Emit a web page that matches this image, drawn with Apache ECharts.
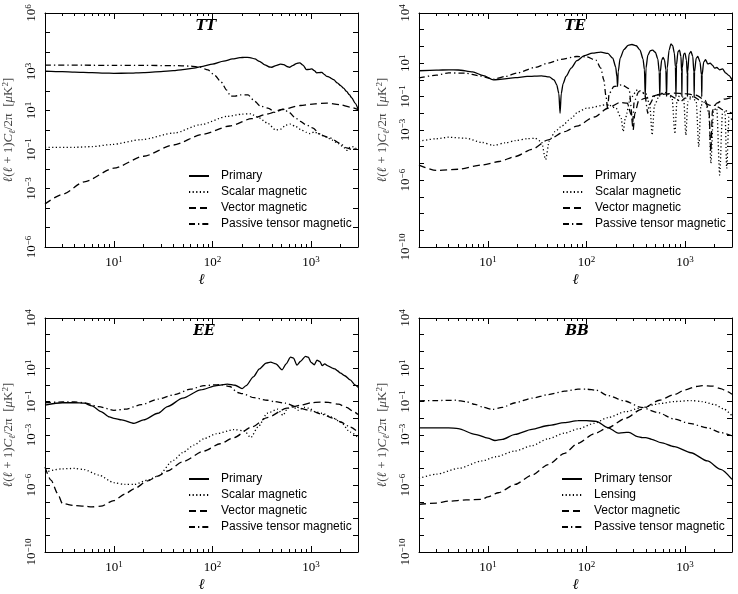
<!DOCTYPE html>
<html><head><meta charset="utf-8">
<script src="https://cdn.jsdelivr.net/npm/echarts@6/dist/echarts.min.js"></script>
<style>html,body{margin:0;padding:0;background:#fff}#c{width:738px;height:594px}</style>
</head><body><div id="c"></div>
<script>
// ---------- labels / ticks ----------
const panelTitles = ['TT', 'TE', 'EE', 'BB'];
const legendNamesMain = ['Primary', 'Scalar magnetic', 'Vector magnetic', 'Passive tensor magnetic'];
const legendNamesBB = ['Primary tensor', 'Lensing', 'Vector magnetic', 'Passive tensor magnetic'];
const xRange = [2, 3000];
const xMajorTicks = [10, 100, 1000];
const xMinorTicks = [2, 3, 4, 5, 6, 7, 8, 9, 20, 30, 40, 50, 60, 70, 80, 90, 200, 300, 400, 500, 600, 700, 800, 900, 2000, 3000];
const ttYRange = [1e-6, 1e6];
const ttYTicks = [1e-6, 1e-5, 1e-4, 1e-3, 1e-2, 1e-1, 1, 1e1, 1e2, 1e3, 1e4, 1e5, 1e6];
const ttYLabels = [1e6, 1e3, 1e1, 1e-1, 1e-3, 1e-6];
const polYRange = [1e-10, 1e4];
const polYTicks = [1e-10, 1e-9, 1e-8, 1e-7, 1e-6, 1e-5, 1e-4, 1e-3, 1e-2, 1e-1, 1, 1e1, 1e2, 1e3, 1e4];
const polYLabels = [1e4, 1e1, 1e-1, 1e-3, 1e-6, 1e-10];

// ---------- TT ----------
const ttPrimary = [[2,1050],[3,980],[4,930],[6,870],[8,830],[10,810],[14,820],[20,880],[30,980],[40,1100],[50,1250],[65,1500],[80,1850],[100,2400],[130,3400],[160,4400],[190,5100],[212,5350],[240,5200],[270,4400],[300,3300],[340,2200],[380,1700],[400,1650],[440,2000],[490,2400],[530,2250],[570,1800],[605,1650],[650,2000],[710,2550],[770,2770],[830,2100],[900,1250],[960,1280],[1020,1360],[1080,1100],[1145,850],[1210,880],[1290,900],[1360,720],[1450,560],[1530,520],[1620,430],[1700,380],[1850,260],[2000,190],[2140,140],[2300,95],[2450,65],[2600,44],[2800,24],[3000,12]];
const ttScalar = [[2,0.13],[4,0.13],[6,0.14],[9.4,0.18],[19,0.32],[41,0.7],[76,1.9],[142,5],[200,6.5],[244,6.8],[290,4.5],[360,2.3],[440,1.0],[490,1.1],[560,1.8],[620,2.0],[700,1.5],[800,1.0],[900,0.75],[980,0.65],[1080,0.8],[1200,0.65],[1400,0.45],[1650,0.3],[1900,0.2],[2150,0.13],[2300,0.09],[2500,0.13],[2700,0.14],[3000,0.09]];
const ttVector = [[2,1.6e-4],[3,5e-4],[5,2.2e-3],[10,1.1e-2],[20,4.5e-2],[40,0.17],[80,0.6],[150,1.6],[250,3.8],[360,6.6],[500,11],[780,18],[1100,22],[1450,24],[1960,20],[2500,15],[3000,11]];
const ttPassive = [[2,2100],[5,2100],[10,2050],[20,2050],[40,2000],[60,1900],[75,1650],[90,1200],[105,650],[122,300],[140,110],[153,54],[170,55],[190,63],[230,63],[260,35],[306,17],[372,13],[430,8],[525,12],[600,8],[700,4],[780,2.8],[900,1.8],[1050,1.26],[1240,0.57],[1560,0.39],[1960,0.21],[2300,0.12],[2600,0.1],[3000,0.12]];

// ---------- TE ----------
const tePrimary = [[2,3.5],[3,3.8],[4,4.0],[5,3.9],[7,3.0],[9,1.8],[11.4,1.0],[14,1.1],[19,1.35],[25,1.6],[35,1.75],[42,1.5],[47,1.0],[50,0.5],[52.5,0.15],[54,0.01],[55.5,0.15],[58,0.6],[62,1.6],[70,5],[80,14],[95,28],[115,40],[140,46],[165,38],[185,20],[198,6],[204,1.5],[207,0.4],[210,3],[220,20],[240,65],[265,115],[290,130],[320,110],[350,60],[375,18],[388,4],[395,0.1],[402,5],[420,30],[445,55],[470,60],[500,45],[530,18],[548,3],[555,0.1],[562,3],[580,15],[600,22],[620,15],[640,4],[650,0.1],[660,5],[690,60],[720,140],[750,110],[780,40],[800,6],[810,0.1],[820,8],[850,50],[880,60],[910,25],[925,3],[930,0.1],[937,5],[970,35],[1000,40],[1035,15],[1055,2],[1060,0.1],[1066,3],[1100,35],[1150,50],[1200,25],[1230,3],[1240,0.1],[1250,3],[1300,20],[1350,25],[1420,12],[1470,2],[1480,0.1],[1492,2],[1550,12],[1620,16],[1700,9],[1800,10],[1900,7.5],[2000,5],[2100,5.5],[2250,4],[2400,4.5],[2600,2.5],[2800,1.8],[3000,1.0]];
const teScalar = [[2,2.1e-4],[3,3e-4],[4,3.7e-4],[6,3.2e-4],[8.7,1.8e-4],[11.4,1.2e-4],[15,1.7e-4],[19,2.3e-4],[25,3e-4],[30,3.2e-4],[35,2e-4],[38.5,1.7e-5],[42,2.2e-4],[48,8e-4],[56,1.7e-3],[70,5e-3],[82,0.012],[100,0.02],[165,0.033],[200,0.02],[225,5e-3],[236,8e-4],[248,5e-3],[280,0.08],[330,0.25],[400,0.15],[440,0.03],[464,5e-4],[490,0.03],[560,0.15],[650,0.18],[740,0.08],[790,6e-4],[830,0.06],[900,0.15],[970,0.08],[1020,5e-4],[1070,0.05],[1180,0.1],[1300,0.05],[1380,1e-4],[1450,0.03],[1600,0.05],[1750,0.01],[1830,1e-5],[1950,0.015],[2100,0.02],[2250,2e-6],[2400,0.01],[2550,0.012],[2650,5e-6],[2800,0.006],[3000,0.004]];
const teVector = [[2,8e-6],[3,3.8e-6],[5,4.5e-6],[8.7,8e-6],[13,1.3e-5],[19,2.6e-5],[28,7e-5],[41,2.6e-4],[60,8e-4],[80,1.7e-3],[120,6e-3],[165,0.02],[220,0.045],[260,0.04],[285,0.008],[298,1e-3],[310,0.01],[340,0.06],[400,0.08],[550,0.13],[780,0.16],[1000,0.15],[1300,0.12],[1600,0.06],[1750,0.015],[1830,5e-5],[1900,0.015],[2100,0.04],[2500,0.07],[3000,0.09]];
const tePassive = [[2,1.3],[3,1.9],[4,2.6],[6,2.5],[8,1.8],[11.4,1.1],[15,1.6],[20,2.6],[30,5.5],[41,10],[55,17],[80,25],[100,24],[125,15],[140,5],[150,1],[158,0.1],[164,0.02],[170,0.15],[190,0.4],[230,0.5],[270,0.3],[295,0.003],[305,0.05],[340,0.2],[390,0.15],[420,0.01],[430,0.03],[500,0.12],[600,0.15],[700,0.12],[800,0.08],[900,0.05],[1000,0.08],[1200,0.1],[1500,0.05],[1800,0.03],[2000,0.03],[2500,0.015],[3000,0.01]];

// ---------- EE ----------
const eePrimary = [[2,0.062],[3,0.085],[4,0.085],[5,0.08],[6,0.055],[7.4,0.025],[9,0.012],[10,0.01],[12,0.008],[16,0.005],[20,0.008],[28,0.02],[35,0.05],[50,0.16],[76,0.5],[110,0.9],[142,1.1],[170,0.95],[200,0.6],[220,0.9],[260,3],[300,9],[350,20],[390,23],[440,18],[510,8],[560,18],[620,45],[665,40],[720,15],[780,25],[880,50],[940,45],[1000,22],[1080,16],[1150,30],[1230,25],[1300,14],[1380,18],[1470,14],[1560,12],[1650,10],[1750,9],[1850,7],[2000,5],[2200,3.5],[2500,2],[2800,1.0],[3000,0.7]];
const eeScalar = [[2,6e-6],[3,9.5e-6],[4,1e-5],[5,8.5e-6],[7,4e-6],[10,1.4e-6],[13,1.1e-6],[16,1.1e-6],[22,2e-6],[28,3.5e-6],[40,3e-5],[50,9e-5],[65,2.5e-4],[82,6e-4],[110,1.2e-3],[165,2.1e-3],[210,1.8e-3],[245,7e-4],[290,3e-3],[360,0.02],[460,0.035],[520,0.015],[580,0.04],[650,0.05],[750,0.03],[850,0.045],[950,0.04],[1100,0.025],[1300,0.02],[1600,0.012],[2000,0.006],[2500,0.0015],[3000,0.0007]];
const eeVector = [[2,1.2e-5],[2.3,2e-6],[2.7,3e-7],[3,8e-8],[4,6e-8],[5,5.5e-8],[6,5e-8],[7.4,5.5e-8],[10,1.2e-7],[13,3e-7],[16,6e-7],[22,1.8e-6],[28,3.5e-6],[35,7e-6],[50,2.5e-5],[82,1.1e-4],[120,3e-4],[165,7e-4],[250,3e-3],[360,0.011],[570,0.04],[780,0.06],[1000,0.085],[1240,0.093],[1500,0.09],[1900,0.07],[2300,0.045],[2700,0.025],[3000,0.017]];
const eePassive = [[2,0.085],[3,0.095],[4,0.095],[5,0.085],[7,0.05],[10,0.03],[13,0.035],[19,0.065],[28,0.14],[41,0.26],[60,0.55],[82,0.9],[120,1.05],[150,0.8],[180,0.35],[200,0.3],[265,0.17],[360,0.12],[420,0.1],[550,0.08],[700,0.05],[780,0.04],[1000,0.028],[1300,0.017],[1700,0.01],[2000,0.006],[2500,0.003],[3000,0.0015]];

// ---------- BB ----------
const bbPrimary = [[2,2.7e-3],[3,2.7e-3],[4,2.7e-3],[5,2.4e-3],[7.4,1.1e-3],[10,6.5e-4],[11.8,4.7e-4],[14,5.5e-4],[18.9,1.1e-3],[28,2.2e-3],[41,3.7e-3],[60,5.5e-3],[82,7.2e-3],[100,7.3e-3],[126,6.5e-3],[165,2.8e-3],[210,1.3e-3],[240,1.4e-3],[270,1.45e-3],[330,8e-4],[370,7e-4],[400,7e-4],[460,5.5e-4],[570,3.5e-4],[780,2e-4],[1150,8.7e-5],[1690,2.8e-5],[2300,8.7e-6],[3000,2.2e-6]];
const bbLensing = [[2,2.5e-6],[3,4.5e-6],[5,1e-5],[8.7,2.8e-5],[12,5e-5],[18.9,1.1e-4],[28,2.3e-4],[41,6e-4],[60,1.3e-3],[82,2.3e-3],[120,5e-3],[165,0.011],[250,0.025],[360,0.043],[550,0.075],[780,0.1],[1150,0.115],[1500,0.1],[2000,0.066],[2500,0.035],[3000,0.014]];
const bbVector = [[2,7e-8],[3,8.5e-8],[4,1.1e-7],[6,1.3e-7],[8.7,1.4e-7],[10,2e-7],[12.8,3.5e-7],[18.9,1.1e-6],[28,4e-6],[41,1.7e-5],[60,8e-5],[82,3.2e-4],[120,1.2e-3],[165,2.7e-3],[250,0.01],[360,0.034],[550,0.12],[780,0.26],[1000,0.5],[1300,0.8],[1500,0.9],[1900,0.85],[2300,0.6],[2700,0.4],[3000,0.27]];
const bbPassive = [[2,0.11],[3,0.115],[4.7,0.12],[6,0.1],[7.4,0.068],[9,0.045],[11,0.034],[14,0.045],[18.9,0.085],[28,0.16],[41,0.26],[60,0.42],[82,0.55],[100,0.55],[126,0.48],[165,0.23],[243,0.11],[360,0.045],[530,0.022],[780,0.009],[1100,0.005],[1690,0.0027],[2300,0.0014],[3000,0.0009]];

// ---------- chart ----------
const SERIF = 'Liberation Serif';
const SANS = 'Liberation Sans';
const panels = [
  {grid: {left: 45, top: 13, width: 313, height: 234}, yRange: ttYRange, yTicks: ttYTicks, yLabels: ttYLabels, legendNames: legendNamesMain, legendPos: {left: 188, top: 170}, titlePos: {left: 206, top: 19},
   series: [ttPrimary, ttScalar, ttVector, ttPassive]},
  {grid: {left: 419, top: 13, width: 313, height: 234}, yRange: polYRange, yTicks: polYTicks, yLabels: polYLabels, legendNames: legendNamesMain, legendPos: {left: 562, top: 170}, titlePos: {left: 575, top: 19},
   series: [tePrimary, teScalar, teVector, tePassive]},
  {grid: {left: 45, top: 318, width: 313, height: 234}, yRange: polYRange, yTicks: polYTicks, yLabels: polYLabels, legendNames: legendNamesMain, legendPos: {left: 188, top: 473}, titlePos: {left: 204, top: 324},
   series: [eePrimary, eeScalar, eeVector, eePassive]},
  {grid: {left: 419, top: 318, width: 313, height: 234}, yRange: polYRange, yTicks: polYTicks, yLabels: polYLabels, legendNames: legendNamesBB, legendPos: {left: 561, top: 473}, titlePos: {left: 577, top: 324},
   series: [bbPrimary, bbLensing, bbVector, bbPassive]}
];
const lineTypes = ['solid', [1.2, 2.4], [7, 4], [6, 3, 1.3, 3]];

function pow10Label(v) {
  const e = Math.round(Math.log10(v));
  return '{b|10}{s|' + (e < 0 ? '\u2212' + (-e) : e) + '}';
}
const tickRich = {
  b: {fontFamily: SERIF, fontSize: 13, lineHeight: 16, color: '#000'},
  s: {fontFamily: SERIF, fontSize: 9, lineHeight: 9, verticalAlign: 'top', color: '#000'}
};
const nameRich = {
  t: {fontFamily: SERIF, fontSize: 13, lineHeight: 16, color: '#444', fontStyle: 'italic'},
  r: {fontFamily: SERIF, fontSize: 13, lineHeight: 16, color: '#444'},
  u: {fontFamily: SERIF, fontSize: 9, lineHeight: 9, verticalAlign: 'bottom', color: '#444', fontStyle: 'italic'},
  p: {fontFamily: SERIF, fontSize: 9, lineHeight: 9, verticalAlign: 'top', color: '#444'}
};
const yName = '{t|\u2113}{r|(}{t|\u2113}{r| + 1)}{t|C}{u|\u2113}{r|/2\u03c0  [}{t|\u03bc}{r|K}{p|2}{r|]}';

const xAxis = [], yAxis = [], series = [], legend = [], title = [];
const black = {color: '#000', width: 1};
panels.forEach((p, i) => {
  const xb = {type: 'log', logBase: 10, min: xRange[0], max: xRange[1], gridIndex: i, splitLine: {show: false},
    axisLabel: {show: false}, axisTick: {show: false}, axisLine: {show: false, onZero: false}};
  xAxis.push(Object.assign({}, xb, {position: 'bottom',
    axisLine: {show: true, onZero: false, lineStyle: black},
    axisTick: {show: true, inside: true, length: 6, customValues: xMajorTicks, lineStyle: black},
    axisLabel: {show: true, customValues: xMajorTicks, formatter: pow10Label, rich: tickRich, margin: 8},
    name: '\u2113', nameLocation: 'middle', nameGap: 26,
    nameTextStyle: {fontFamily: SERIF, fontStyle: 'italic', fontSize: 15, color: '#000'}}));
  xAxis.push(Object.assign({}, xb, {position: 'bottom',
    axisTick: {show: true, inside: true, length: 3, customValues: xMinorTicks, lineStyle: black}}));
  xAxis.push(Object.assign({}, xb, {position: 'top',
    axisLine: {show: true, onZero: false, lineStyle: black},
    axisTick: {show: true, inside: true, length: 6, customValues: xMajorTicks, lineStyle: black}}));
  xAxis.push(Object.assign({}, xb, {position: 'top',
    axisTick: {show: true, inside: true, length: 3, customValues: xMinorTicks, lineStyle: black}}));

  const yb = {type: 'log', logBase: 10, min: p.yRange[0], max: p.yRange[1], gridIndex: i, splitLine: {show: false}};
  yAxis.push(Object.assign({}, yb, {position: 'left',
    axisLine: {show: true, onZero: false, lineStyle: black},
    axisTick: {show: true, inside: true, length: 5, customValues: p.yTicks, lineStyle: black},
    axisLabel: {show: true, customValues: p.yLabels, formatter: pow10Label, rich: tickRich, rotate: 90, margin: 5},
    name: yName, nameLocation: 'middle', nameGap: 28, nameRotate: 90, nameTextStyle: {rich: nameRich}}));
  yAxis.push(Object.assign({}, yb, {position: 'right',
    axisLine: {show: true, onZero: false, lineStyle: black},
    axisTick: {show: true, inside: true, length: 5, customValues: p.yTicks, lineStyle: black},
    axisLabel: {show: false}}));

  p.series.forEach((d, k) => {
    series.push({type: 'line', name: p.legendNames[k], data: d, xAxisIndex: 4 * i, yAxisIndex: 2 * i,
      symbol: 'none', smooth: 0.25, smoothMonotone: 'x', animation: false,
      lineStyle: {color: '#000', width: 1.3, type: lineTypes[k]}, itemStyle: {color: '#000'}});
  });

  legend.push({orient: 'vertical', left: p.legendPos.left, top: p.legendPos.top, padding: 0,
    itemWidth: 20, itemHeight: 14, itemGap: 4, selectedMode: false, data: p.legendNames,
    itemStyle: {opacity: 0, color: 'rgba(0,0,0,0)', borderWidth: 0},
    textStyle: {fontFamily: SANS, fontSize: 12, color: '#000', padding: [0, 0, 0, 7]}});
  title.push({text: panelTitles[i], left: p.titlePos.left, top: p.titlePos.top, textAlign: 'center', padding: 0,
    textStyle: {fontFamily: 'DejaVu Serif', fontStyle: 'italic', fontWeight: 'bold', fontSize: 14, color: '#000'}});
});

const chart = echarts.init(document.getElementById('c'), null, {renderer: 'canvas'});
chart.setOption({animation: false, backgroundColor: '#fff', title, legend,
  grid: panels.map(p => p.grid), xAxis, yAxis, series});
</script>
</body></html>
